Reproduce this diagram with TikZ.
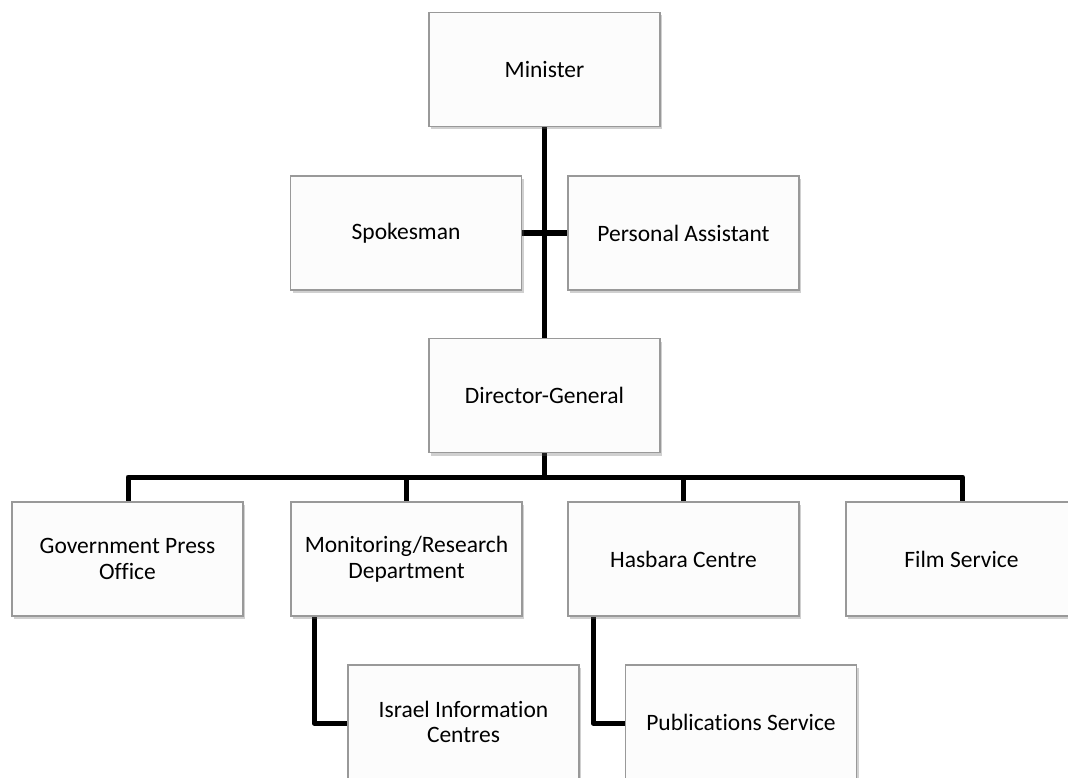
\documentclass[tikz,border=0pt]{standalone}
\usepackage{fontspec}
\setmainfont{Carlito}[Ligatures=NoCommon]
\usetikzlibrary{shadows}
\begin{document}
\begin{tikzpicture}[x=1pt,y=-1pt,
  orgbox/.style={draw=black!40, line width=1.2pt, fill=white!99!black,
    minimum width=231pt, minimum height=114pt, inner sep=0pt,
    align=center, font=\fontsize{23.5}{25.5}\selectfont,
    drop shadow={shadow xshift=2pt, shadow yshift=-3pt, opacity=0.3, fill=black!60}},
  link/.style={line width=5pt, line join=round, black}]
\useasboundingbox (0,0) rectangle (1068,778);
\clip (0,0) rectangle (1068,778);
\fill[white] (0,0) rectangle (1068,778);

% connectors first (behind boxes)
\coordinate (trunkTop) at (544.5,127);
\coordinate (trunkBot) at (544.5,338);
\coordinate (sideL) at (522,233);
\coordinate (sideR) at (568,233);
\coordinate (busC) at (544.5,453);
\coordinate (bus) at (544.5,477);
\coordinate (busL) at (128,502);
\coordinate (busR) at (962.5,502);
\coordinate (d2) at (406.5,502);
\coordinate (d3) at (683.5,502);
\coordinate (s1) at (314,616);
\coordinate (s1e) at (348,723);
\coordinate (s2) at (593,616);
\coordinate (s2e) at (625,723);

\draw[link] (trunkTop) -- (trunkBot);
\draw[link] (sideL) -- (sideR);
\draw[link] (busC) -- (bus);
\draw[link] (busL) |- (bus) -| (busR);
\draw[link] (d2) -- (d2 |- bus);
\draw[link] (d3) -- (d3 |- bus);
\draw[link] (s1) |- (s1e);
\draw[link] (s2) |- (s2e);

\node[orgbox] (min) at (544.5,69.5) {Minister};
\node[orgbox] (spk) at (406,233) {Spokesman};
\node[orgbox] (pa) at (683.5,233) {Personal Assistant};
\node[orgbox] (dg) at (544.5,395.5) {Director-General};
\node[orgbox] (gpo) at (127.5,559) {Government Press\\Office};
\node[orgbox] (mon) at (406.5,559) {Monitoring/Research\\Department};
\node[orgbox] (has) at (683.5,559) {Hasbara Centre};
\node[orgbox] (film) at (961.5,559) {Film Service};
\node[orgbox] (isr) at (463.5,722) {Israel Information\\Centres};
\node[orgbox] (pub) at (741,722) {Publications Service};
\end{tikzpicture}
\end{document}
